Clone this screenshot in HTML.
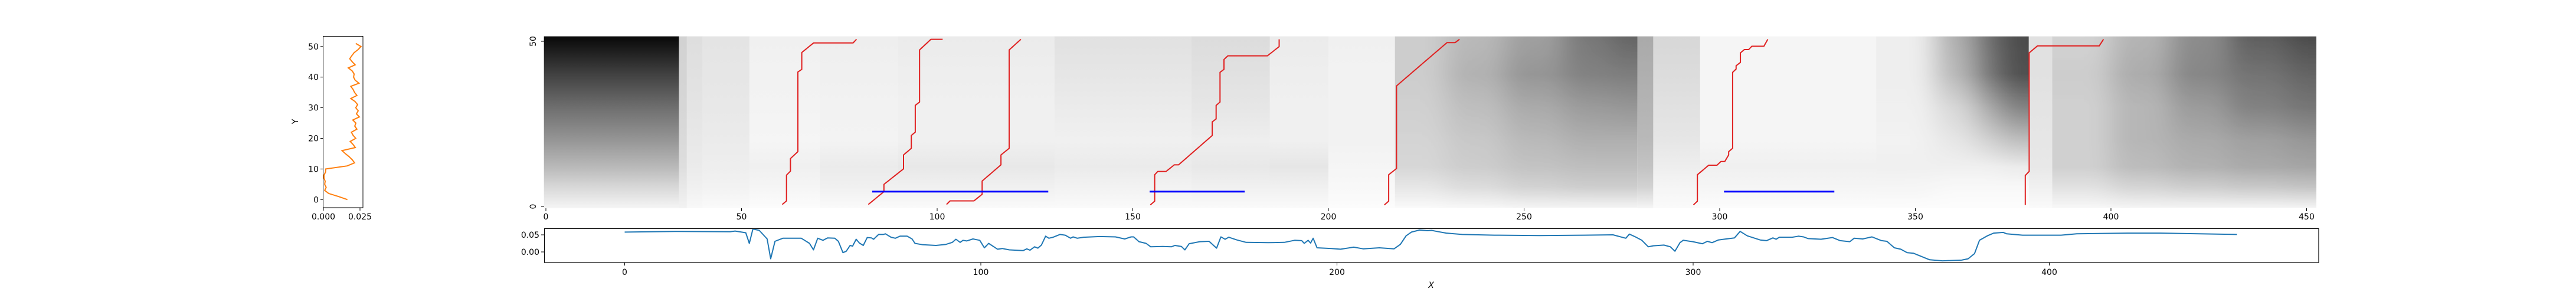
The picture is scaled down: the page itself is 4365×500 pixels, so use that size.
<!DOCTYPE html>
<html><head><meta charset="utf-8">
<style>
html,body{margin:0;padding:0;background:#fff;}
svg{display:block;font-family:"DejaVu Sans","Liberation Sans",sans-serif;}
</style></head>
<body>
<svg id="fig" width="4365" height="500" viewBox="0 0 4365 500" xmlns="http://www.w3.org/2000/svg">
<defs id="defs">
<filter id="hblur" x="-0.1" y="0" width="1.2" height="1"><feGaussianBlur stdDeviation="22 0"/></filter>
</defs>
<g id="left"></g>
<g id="main"></g>
<g id="bottom"></g>
</svg>
<script>
// ---------- Left panel data ----------
const profYVals = [];
for (let i = 0; i <= 51; i++) profYVals.push(i);
const profXVals = [0.0164,0.0103,0.0036,0.0009,0.0019,0.0009,0.0012,0.0004,0.0004,0.0015,0.0016,0.0163,0.0213,0.0197,0.0176,0.015,0.0127,0.0218,0.0203,0.0183,0.0221,0.0203,0.0191,0.0229,0.0214,0.0222,0.0201,0.0246,0.0226,0.0238,0.0221,0.0234,0.0217,0.0187,0.0229,0.0213,0.0203,0.0187,0.0243,0.0217,0.0206,0.021,0.0197,0.017,0.0217,0.0197,0.018,0.0194,0.021,0.0237,0.0257,0.0221];
const leftYTicks = [0,10,20,30,40,50];
const leftXTicks = [0, 0.025];
const leftXTickLabels = ["0.000","0.025"];

// ---------- Heatmap data ----------
const hmXTicks = [0,50,100,150,200,250,300,350,400,450];
const hmYTicks = [0,50];
const hmLevels = [51.5,40,30,20,12,6,-0.5];
const hmBlockStart = [-0.5,34,36,40,52,70,90,130,165,185,200,217,230,245,260,272,279,283,295,340,355,365,372,379,385,400,415,430,445];
const hmBlockEnd   = [34,36,40,52,70,90,130,165,185,200,217,230,245,260,272,279,283,295,340,355,365,372,379,385,400,415,430,445,452.5];
const hmSmoothGroup = [0,0,0,0,0,0,0,0,0,0,0,1,1,1,1,1,0,0,0,2,2,2,2,0,3,3,3,3,3];
const hmGray = [
 [8,65,110,150,185,215,245],
 [210,212,214,218,222,232,242],
 [222,225,228,232,235,240,248],
 [228,230,232,235,238,242,250],
 [240,242,243,245,240,245,252],
 [238,240,242,243,235,240,250],
 [235,238,240,240,232,240,250],
 [225,230,235,240,235,242,250],
 [220,225,230,238,232,240,250],
 [235,238,240,240,230,240,250],
 [240,242,242,242,245,248,252],
 [205,205,208,212,215,230,250],
 [185,178,190,200,205,220,248],
 [160,150,170,185,195,210,245],
 [120,130,155,175,190,205,245],
 [100,125,150,175,190,205,245],
 [170,175,180,185,195,210,245],
 [215,220,225,230,238,245,250],
 [245,245,245,245,240,245,252],
 [238,238,240,242,240,245,252],
 [175,185,215,230,240,248,253],
 [110,120,170,210,240,248,253],
 [75,80,130,190,235,248,253],
 [225,225,228,230,232,240,250],
 [210,205,208,208,208,225,248],
 [180,172,182,182,188,212,245],
 [140,135,155,170,178,205,245],
 [95,115,130,160,170,200,245],
 [75,100,118,150,165,195,245]
];
const path1X=[60.4,61.5,61.5,62.5,62.5,64.4,64.4,65.4,65.4,68.4,78.5,79.4];
const path1Y=[0.6,1.7,9.5,10.7,14.5,16.6,40.7,41.5,46.6,49.5,49.5,50.6];
const path2X=[82.4,86.4,86.4,91.4,91.4,93.4,93.4,94.4,94.4,95.5,95.5,98.4,101.4];
const path2Y=[0.6,4.5,6.7,11.4,15.6,17.6,21.5,22.5,30.6,31.6,47.4,50.6,50.6];
const path3X=[102.4,103.3,109.4,111.5,111.5,116.3,116.3,118.4,118.4,121.4];
const path3Y=[0.6,1.7,1.7,3.7,7.7,12.6,15.6,17.6,47.4,50.6];
const path4X=[154.5,155.6,155.6,156.4,158.5,160.6,161.7,170.3,170.3,171.3,171.3,172.3,172.3,173.3,173.3,174.3,184.4,187.4,187.4];
const path4Y=[0.5,1.6,9.6,10.6,10.6,12.6,12.6,21.5,25.6,26.5,30.6,31.6,40.6,41.5,44.5,45.6,45.6,48.4,50.6];
const path5X=[214.3,215.4,215.4,217.4,217.4,230.3,232.4,233.5];
const path5Y=[0.5,1.6,9.6,11.5,36.5,49.6,49.6,50.6];
const path6X=[293.3,294.3,294.3,297.2,299.3,300.3,301.3,302.3,302.3,303.3,303.3,304.2,304.2,305.3,305.3,306.3,307.4,308.2,311.3,312.3];
const path6Y=[0.5,1.6,9.6,12.5,12.5,13.6,13.6,15.6,16.6,17.6,40.6,41.6,42.6,43.6,46.5,47.5,47.5,48.5,48.5,50.6];
const path7X=[378.1,378.1,379.1,379.1,381.2,397,398.1];
const path7Y=[0.5,9.4,10.6,46.5,48.6,48.6,50.6];
const blueStart=[83.4,154.3,301.1];
const blueEnd=[128.4,178.6,329.3];
const blueY=[4.5,4.5,4.5];

// ---------- Bottom panel data ----------
const bX=[0,14.8,29.6,31,34,35,36,37.8,40,41,42.2,44.4,49.6,51.9,53,54.2,55.7,57,59,60,61.3,62.2,63.3,64,65,65.9,67,68.1,69.3,69.9,71.3,72.6,73.2,74.8,76,77.3,79.3,80.7,81.5,83.7,87.4,90.2,92,93,94.2,95,96,97.8,99.7,101,102.2,104.7,106,108,111.9,112.9,113.8,115.1,116,117,118.2,119.1,120.3,122.2,123.7,125.2,125.9,127.1,128.9,133.3,137.8,140.4,142.2,142.9,144.4,146.4,147.7,151.1,153.5,154.5,156.3,157.3,158.5,161.5,164.1,166.2,167.4,168.6,169.6,171.9,174.5,180.7,185.2,188.1,190.1,190.8,191.9,192.6,193.3,194.4,198.5,201,204.7,207.4,211.9,216,217.8,219.4,220.9,223.2,225.4,226.6,228,230.7,235.2,244.2,256.8,269.4,277.5,281.1,282.1,283.8,285.6,287.4,288.8,291.8,293.6,294.9,296.3,297.2,299.9,302.6,304,305.3,307.1,311.6,313.2,315.2,318.8,320.6,322.4,323.3,324.2,327.8,329.6,331,332.3,335.9,339.1,341.3,344,345.2,347.6,350.2,352.9,354.4,356.5,358.3,360.1,361.9,366.4,370,375.4,377.2,379,380.4,382.6,384.4,387.1,388,392.5,403.3,407.7,422.1,431.1,452.7];
const bY=[0.058,0.060,0.059,0.061,0.056,0.025,0.067,0.063,0.038,-0.020,0.031,0.040,0.040,0.025,0.006,0.040,0.034,0.041,0.040,0.031,-0.002,0.002,0.019,0.017,0.037,0.026,0.019,0.042,0.041,0.037,0.051,0.051,0.053,0.043,0.040,0.046,0.046,0.038,0.025,0.021,0.019,0.022,0.028,0.037,0.028,0.034,0.032,0.038,0.034,0.012,0.025,0.008,0.010,0.006,0.004,0.009,0.005,0.015,0.011,0.020,0.046,0.040,0.043,0.051,0.049,0.040,0.044,0.040,0.043,0.045,0.044,0.038,0.044,0.044,0.030,0.025,0.015,0.016,0.015,0.019,0.016,0.006,0.024,0.030,0.031,0.011,0.044,0.037,0.043,0.035,0.028,0.027,0.028,0.034,0.033,0.025,0.034,0.026,0.040,0.012,0.010,0.008,0.014,0.009,0.012,0.009,0.022,0.047,0.058,0.064,0.062,0.063,0.060,0.055,0.051,0.049,0.048,0.049,0.050,0.040,0.052,0.044,0.034,0.015,0.018,0.020,0.015,0.002,0.027,0.034,0.030,0.024,0.031,0.027,0.035,0.041,0.060,0.047,0.035,0.033,0.041,0.037,0.043,0.043,0.046,0.044,0.039,0.037,0.042,0.033,0.030,0.040,0.038,0.044,0.033,0.031,0.012,0.008,-0.002,-0.004,-0.023,-0.026,-0.024,-0.020,-0.005,0.034,0.047,0.055,0.057,0.053,0.049,0.049,0.053,0.055,0.055,0.051];
const bXTicks=[0,100,200,300,400];
const bYTicks=[0,0.05];
const bYTickLabels=["0.00","0.05"];

const NS="http://www.w3.org/2000/svg";
function mk(parent, tag, attrs, text){
  const e=document.createElementNS(NS,tag);
  for(const k in attrs) e.setAttribute(k,attrs[k]);
  if(text!==undefined) e.textContent=text;
  parent.appendChild(e); return e;
}

// ===== Left panel =====
const L=document.getElementById('left');
const lx=v=>548+v*2480, ly=v=>338.3-v*5.19;
{
  let d=profXVals.map((v,i)=>(i?'L':'M')+lx(v).toFixed(1)+','+ly(profYVals[i]).toFixed(1)).join('');
  const p=mk(L,'path',{d:d,fill:'none',stroke:'#ff7f0e','stroke-width':2});
  
  
  const r=mk(L,'rect',{x:547.5,y:61.5,width:67.5,height:290.5,fill:'none',stroke:'#000','stroke-width':1});
  
  
  leftYTicks.forEach(t=>{
    mk(L,'line',{x1:543,x2:547.5,y1:ly(t),y2:ly(t),stroke:'#000'});
    const tx=mk(L,'text',{x:540,y:ly(t)+5,'text-anchor':'end','font-size':14,fill:'#000'},String(t));
    
    
  });
  leftXTicks.forEach((t,i)=>{
    mk(L,'line',{x1:lx(t),x2:lx(t),y1:352,y2:357,stroke:'#000'});
    const tx=mk(L,'text',{x:lx(t),y:372,'text-anchor':'middle','font-size':14,fill:'#000'},leftXTickLabels[i]);
    
    
  });
  const yl=mk(L,'text',{x:505,y:206,'text-anchor':'middle','font-size':14,transform:'rotate(-90 505 206)'},'Y');
  
  
}

// ===== Heatmap =====
const M=document.getElementById('main');
const defs=document.getElementById('defs');
const hx=v=>925+v*6.63, hy=v=>350-v*5.6;
const g=v=>'rgb('+v+','+v+','+v+')';
// groups: 0 = sharp, others = horizontally smoothed & clipped
const groupEls={};
function groupFor(k){
  if(k===0) return M;
  if(groupEls[k]) return groupEls[k];
  let s=Infinity,e=-Infinity;
  hmSmoothGroup.forEach((gk,i)=>{ if(gk===k){ s=Math.min(s,hmBlockStart[i]); e=Math.max(e,hmBlockEnd[i]); } });
  const cp=mk(defs,'clipPath',{id:'cp'+k});
  mk(cp,'rect',{x:hx(s),y:hy(51.5),width:hx(e)-hx(s),height:hy(-0.5)-hy(51.5)});
  const outer=mk(M,'g',{'clip-path':'url(#cp'+k+')'});
  
  
  const inner=mk(outer,'g',{filter:'url(#hblur)'});
  groupEls[k]=inner; return inner;
}
hmGray.forEach((row,i)=>{
  const id='hg'+i;
  const lg=mk(defs,'linearGradient',{id:id,x1:0,y1:0,x2:0,y2:1});
  row.forEach((v,j)=>{
    mk(lg,'stop',{offset:((51.5-hmLevels[j])/52).toFixed(3),'stop-color':g(v)});
  });
  const k=hmSmoothGroup[i];
  let x0=hx(hmBlockStart[i]), x1=hx(hmBlockEnd[i]);
  // extend edge blocks of smoothed groups so blur doesn't fade at clip edges
  if(k!==0){
    if(i===0||hmSmoothGroup[i-1]!==k) x0-=60;
    if(i===hmGray.length-1||hmSmoothGroup[i+1]!==k) x1+=60;
  }
  const r=mk(groupFor(k),'rect',{x:x0.toFixed(1),y:hy(51.5).toFixed(1),width:(x1-x0+0.6).toFixed(1),height:(hy(-0.5)-hy(51.5)).toFixed(1),fill:'url(#'+id+')'});
  
  
});
[[path1X,path1Y],[path2X,path2Y],[path3X,path3Y],[path4X,path4Y],[path5X,path5Y],[path6X,path6Y],[path7X,path7Y]].forEach(([xs,ys])=>{
  const d=xs.map((v,i)=>(i?'L':'M')+hx(v).toFixed(1)+','+hy(ys[i]).toFixed(1)).join('');
  const p=mk(M,'path',{d:d,fill:'none',stroke:'#e02020','stroke-width':2,'stroke-linejoin':'round'});
  
  
});
blueStart.forEach((s,i)=>{
  const l=mk(M,'line',{x1:hx(s),x2:hx(blueEnd[i]),y1:hy(blueY[i]),y2:hy(blueY[i]),stroke:'#0000ff','stroke-width':3});
  
  
});
hmXTicks.forEach(t=>{
  mk(M,'line',{x1:hx(t),x2:hx(t),y1:353,y2:358,stroke:'#000'});
  const tx=mk(M,'text',{x:hx(t),y:372,'text-anchor':'middle','font-size':14},String(t));
  
  
});
hmYTicks.forEach(t=>{
  mk(M,'line',{x1:917,x2:922,y1:hy(t),y2:hy(t),stroke:'#000'});
  const tx=mk(M,'text',{x:908,y:hy(t),'text-anchor':'middle','font-size':14,transform:'rotate(-90 908 '+hy(t)+')'},String(t));
  
  
});

// ===== Bottom panel =====
const B=document.getElementById('bottom');
const bx=v=>1058.5+v*6.035, by=v=>427-v*580;
{
  const d=bX.map((v,i)=>(i?'L':'M')+bx(v).toFixed(1)+','+by(bY[i]).toFixed(1)).join('');
  const p=mk(B,'path',{d:d,fill:'none',stroke:'#1f77b4','stroke-width':2,'stroke-linejoin':'round'});
  
  
  const r=mk(B,'rect',{x:922.5,y:387.5,width:3006.5,height:57.5,fill:'none',stroke:'#000','stroke-width':1.2});
  
  
  bXTicks.forEach(t=>{
    mk(B,'line',{x1:bx(t),x2:bx(t),y1:445,y2:450,stroke:'#000'});
    const tx=mk(B,'text',{x:bx(t),y:466,'text-anchor':'middle','font-size':14},String(t));
    
    
  });
  bYTicks.forEach((t,i)=>{
    mk(B,'line',{x1:917,x2:922.5,y1:by(t),y2:by(t),stroke:'#000'});
    const tx=mk(B,'text',{x:914,y:by(t)+5,'text-anchor':'end','font-size':14},bYTickLabels[i]);
    
    
  });
  const xl=mk(B,'text',{x:2425,y:488,'text-anchor':'middle','font-size':14,'font-style':'italic'},'X');
  
  
}
</script>
</body></html>
